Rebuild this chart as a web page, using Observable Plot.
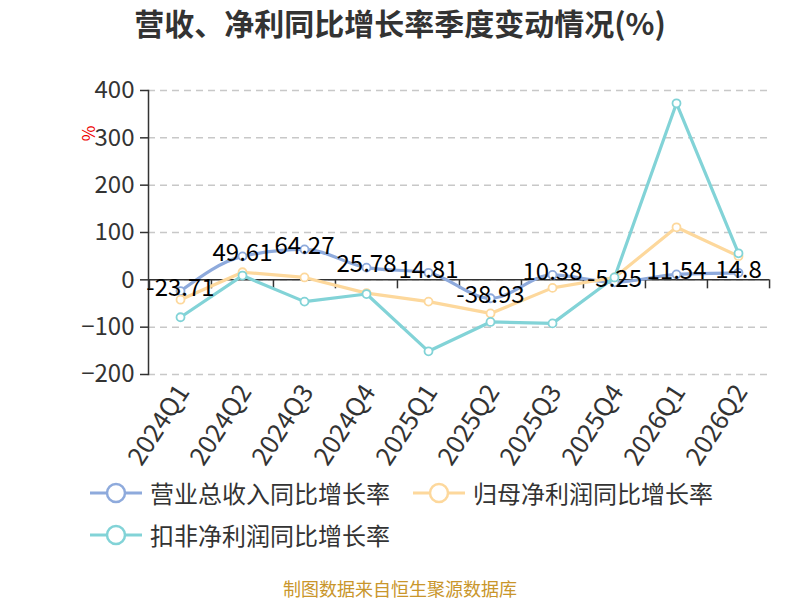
<!DOCTYPE html>
<html>
<head>
<meta charset="utf-8">
<script src="https://cdn.jsdelivr.net/npm/d3@7"></script>
<script src="https://cdn.jsdelivr.net/npm/@observablehq/plot@0.6"></script>
<style>
  html, body { margin: 0; padding: 0; background: #fff; }
  body { width: 800px; height: 600px; position: relative; overflow: hidden; font-family: "Noto Sans CJK SC", "Noto Sans", sans-serif; }
  #title { position: absolute; left: 0; top: 0px; width: 800px; text-align: center; font-size: 30px; line-height: 44px; font-weight: bold; color: #333; }
  #chart { position: absolute; left: 0; top: 0; }
  #unit { position: absolute; left: 80px; top: 121px; color: #e00; font-size: 17px; transform: rotate(-90deg); transform-origin: center; }
  .leg { position: absolute; display: flex; align-items: center; font-size: 24px; line-height: 30px; color: #333; }
  .leg svg { margin-right: 8px; }
  #footer { position: absolute; left: 0; top: 578px; width: 800px; text-align: center; font-size: 18px; line-height: 20px; color: #c9962b; }
</style>
</head>
<body>
<div id="chart"></div>
<div id="title">营收、净利同比增长率季度变动情况(%)</div>
<div id="unit">%</div>
<div id="legend"></div>
<div id="footer">制图数据来自恒生聚源数据库</div>
<script>
const quarters = ["2024Q1","2024Q2","2024Q3","2024Q4","2025Q1","2025Q2","2025Q3","2025Q4","2026Q1","2026Q2"];
const revenueGrowth = [-23.71, 49.61, 64.27, 25.78, 14.81, -38.93, 10.38, -5.25, 11.54, 14.8];
const netProfitGrowth = [-42, 16, 5, -28, -46, -71, -17, 5, 111, 50];
const deductedProfitGrowth = [-79, 9, -46, -30, -151, -89, -92, 5, 373, 56];
const yTicks = [-200, -100, 0, 100, 200, 300, 400];
const seriesNames = ["营业总收入同比增长率", "归母净利润同比增长率", "扣非净利润同比增长率"];
const seriesColors = ["#8eaadc", "#fdd89c", "#82d3d7"];

const seriesValues = [revenueGrowth, netProfitGrowth, deductedProfitGrowth];
const rowsBySeries = seriesValues.map((vals, si) =>
  quarters.map((q, i) => ({ series: seriesNames[si], quarter: q, value: vals[i] })));

const W = 800, H = 480, mL = 148, mR = 31;
const halfStep = (W - mL - mR) / quarters.length / 2;

const marks = [
  Plot.gridY(yTicks, { stroke: "#c8c8c8", strokeOpacity: 1, strokeWidth: 1.5, strokeDasharray: "7,5" }),
  Plot.axisY(yTicks, { tickSize: 8, tickPadding: 6, fontSize: 24, color: "#333", label: null, strokeWidth: 1.5 }),
  Plot.frame({ anchor: "left", stroke: "#333", strokeWidth: 1.5 }),
  Plot.axisX({ anchor: "bottom", tickRotate: -57, tickSize: 0, tickPadding: 13, dx: 3, fontSize: 25.5, color: "#333", label: null }),
  Plot.ruleY([0], { stroke: "#333", strokeWidth: 1.5 }),
  Plot.ruleX(quarters, { x: d => d, y1: 0, y2: -19, dx: -halfStep, stroke: "#333", strokeWidth: 1.5 }),
  Plot.ruleX(quarters.slice(-1), { x: d => d, y1: 0, y2: -19, dx: halfStep, stroke: "#333", strokeWidth: 1.5 })
];

rowsBySeries.forEach((rows, si) => {
  marks.push(Plot.line(rows, { x: "quarter", y: "value", stroke: seriesColors[si], strokeWidth: 3.2,
    curve: si === 0 ? "monotone-x" : "linear" }));
  marks.push(Plot.dot(rows, { x: "quarter", y: "value", r: 4, fill: "white", stroke: seriesColors[si], strokeWidth: 1.8 }));
});

marks.push(Plot.text(rowsBySeries[0], { x: "quarter", y: "value", text: d => String(d.value),
  fontSize: 24, fill: "#000", dy: -3, lineAnchor: "middle", textAnchor: "middle" }));

const chart = Plot.plot({
  width: W, height: H,
  marginLeft: mL, marginRight: mR, marginTop: 90, marginBottom: 106,
  style: { fontFamily: "'Noto Sans CJK SC', 'Noto Sans', sans-serif", background: "transparent", overflow: "visible" },
  x: { type: "point", domain: quarters, padding: 0.5 },
  y: { domain: [-200, 400] },
  marks
});
document.getElementById("chart").appendChild(chart);

// legend
const legendPos = [[90, 478], [413, 478], [90, 520]];
const legend = document.getElementById("legend");
seriesNames.forEach((name, i) => {
  const div = document.createElement("div");
  div.className = "leg";
  div.style.left = legendPos[i][0] + "px";
  div.style.top = legendPos[i][1] + "px";
  div.innerHTML = `<svg width="52" height="30"><line x1="0" y1="15" x2="52" y2="15" stroke="${seriesColors[i]}" stroke-width="3"/><circle cx="26" cy="15" r="9" fill="white" stroke="${seriesColors[i]}" stroke-width="2.5"/></svg><span>${name}</span>`;
  legend.appendChild(div);
});
</script>
</body>
</html>
